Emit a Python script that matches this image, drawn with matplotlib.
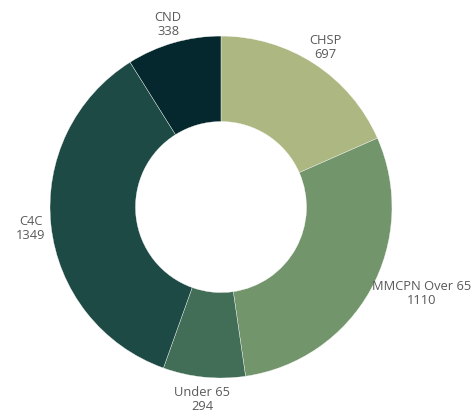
import numpy as np
import matplotlib
matplotlib.use("Agg")
import matplotlib.pyplot as plt

# data
labels = ["CHSP", "MMCPN Over 65", "Under 65", "C4C", "CND"]
values = [697, 1110, 294, 1349, 338]
colors = ["#adb782", "#72956b", "#426d57", "#1e4a45", "#04282d"]
# label nudges in points (dx, dy)
nudges = [(0, 0), (24, 5), (0, -1), (0, 0), (0, 0)]

plt.rcParams["font.family"] = ["Open Sans", "DejaVu Sans"]

fig = plt.figure(figsize=(4.76, 4.14), dpi=100)
ax = fig.add_axes([0.105, 0.0845, 0.7185, 0.826])

wedges, _ = ax.pie(values, colors=colors, startangle=90, counterclock=False,
                   radius=1.0, wedgeprops=dict(width=0.5, edgecolor="white", linewidth=0.25))

total = sum(values)
cum = np.cumsum([0] + values[:-1])
for lab, v, c, (dx, dy) in zip(labels, values, cum, nudges):
    ang = np.deg2rad(90 - 360 * (c + v / 2) / total)
    x, y = 1.12 * np.cos(ang), 1.12 * np.sin(ang)
    ax.annotate(f"{lab}\n{v}", (x, y), xytext=(dx, dy), textcoords="offset points",
                ha="center", va="center", fontsize=9.3, color="#595959",
                linespacing=1.1, annotation_clip=False)

ax.set_xlim(-1, 1)
ax.set_ylim(-1, 1)
ax.set_aspect("equal")
ax.axis("off")

fig.savefig("out.png", dpi=100, facecolor="white")
